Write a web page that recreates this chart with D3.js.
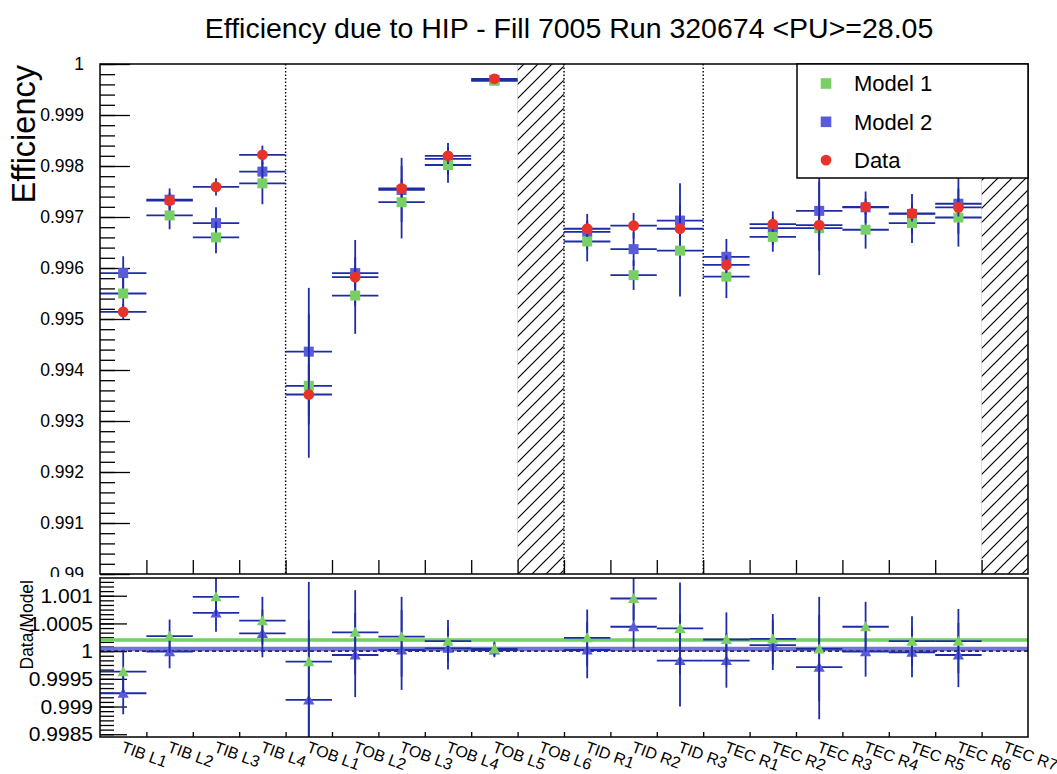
<!DOCTYPE html>
<html>
<head>
<meta charset="utf-8">
<script src="https://cdn.jsdelivr.net/npm/d3@7"></script>
<style>
  body { margin: 0; background: #fff; }
  svg { display: block; }
  text { font-family: "Liberation Sans", Arial, Helvetica, sans-serif; fill: #000; }
</style>
</head>
<body>
<svg id="chart" width="1057" height="774"></svg>
<script>
// Tracker layers (bins)
const categories = ["TIB L1","TIB L2","TIB L3","TIB L4",
  "TOB L1","TOB L2","TOB L3","TOB L4","TOB L5","TOB L6",
  "TID R1","TID R2","TID R3",
  "TEC R1","TEC R2","TEC R3","TEC R4","TEC R5","TEC R6","TEC R7"];

// Efficiencies per layer (null = layer not measured)
const model1 = [0.99550,0.99703,0.99660,0.99766,0.99369,0.99546,0.99729,0.99802,0.99967,null,
  0.99652,0.99586,0.99634,0.99583,0.99661,0.99678,0.99675,0.99688,0.99699,null];
const model1Err = [0.00031,0.00027,0.00031,0.00041,0.00141,0.00075,0.00071,0.00035,0.00004,null,
  0.00039,0.00029,0.00090,0.00042,0.00029,0.00092,0.00037,0.00039,0.00057,null];
const model2 = [0.99590,0.99734,0.99688,0.99789,0.99436,0.99590,0.99753,0.99814,0.99969,null,
  0.99671,0.99637,0.99693,0.99622,0.99678,0.99712,0.99719,0.99706,0.99726,null];
const model2Err = [0.00033,0.00022,0.00031,0.00031,0.00125,0.00065,0.00063,0.00031,0.00004,null,
  0.00035,0.00033,0.00073,0.00035,0.00033,0.00078,0.00031,0.00039,0.00059,null];
const data = [0.99514,0.99732,0.99759,0.99822,0.99352,0.99582,0.99756,0.99820,0.99971,null,
  0.99677,0.99683,0.99677,0.99606,0.99686,0.99684,0.99720,0.99707,0.99719,null];
const dataErr = [0.00015,0.00016,0.00017,0.00018,0.00059,0.00020,0.00018,0.00016,0.00004,null,
  0.00016,0.00025,0.00020,0.00016,0.00014,0.00018,0.00016,0.00016,0.00018,null];

// Ratios Data/Model
const ratio1 = [0.99963,1.00027,1.00098,1.00055,0.99981,1.00034,1.00026,1.00018,1.00004,null,
  1.00024,1.00095,1.00041,1.00021,1.00022,1.00004,1.00044,1.00018,1.00018,null];
const ratio2 = [0.99924,0.99999,1.00069,1.00032,0.99912,0.99993,1.00002,1.00005,1.00002,null,
  1.00002,1.00044,0.99983,0.99983,1.00011,0.99971,0.99999,0.99998,0.99993,null];
const ratioErr = [0.00038,0.00030,0.00034,0.00043,0.00144,0.00076,0.00072,0.00038,0.00013,null,
  0.00051,0.00039,0.00083,0.00049,0.00045,0.00094,0.00045,0.00045,0.00058,null];
// Constant fits of the ratios
const fit1 = 1.00020;
const fit2 = 1.00004;

// Layout helpers
const groupStarts = ["TOB L1","TID R1","TEC R1"];
const emptyBins = ["TOB L6","TEC R7"];
const topTicks = d3.range(0, 11).map(i => +(0.99 + i * 0.001).toFixed(4));
const topMinor = d3.range(0, 51).map(i => +(0.99 + i * 0.0002).toFixed(5));
const ratioTicks = [0.9985, 0.999, 0.9995, 1, 1.0005, 1.001];
const ratioMinor = d3.range(-1, 36).map(i => 0.9985 + i * 0.0005 / 6);

const title = "Efficiency due to HIP - Fill 7005 Run 320674 <PU>=28.05";

const colors = { m1: "#78d064", m2: "#5a5adc", data: "#e8332a", err: "#1e2ca3" };

const svg = d3.select("#chart");
const L = 100, R = 1028, T1 = 64, B1 = 574, T2 = 578, B2 = 737;

const x = d3.scaleBand().domain(categories).range([L, R]).paddingInner(0).paddingOuter(0);
const xEdge = d3.scaleLinear().domain([0, categories.length]).range([L, R]);
const yTop = d3.scaleLinear().domain([0.99, 1]).range([B1, T1]);
const yRat = d3.scaleLinear().domain([0.99845, 1.00132]).range([B2, T2]);
const bw = x.bandwidth();
const cx = c => x(c) + bw / 2;
const fmt = d => String(+d.toFixed(5));

const defs = svg.append("defs");
const hatch = defs.append("pattern").attr("id", "hatch")
  .attr("patternUnits", "userSpaceOnUse").attr("width", 14).attr("height", 14);
hatch.append("path").attr("d", "M-3,3 L3,-3 M0,14 L14,0 M11,17 L17,11")
  .attr("stroke", "#000").attr("stroke-width", 1.2);
defs.append("clipPath").attr("id", "clipTop").append("rect")
  .attr("x", L).attr("y", T1).attr("width", R - L).attr("height", B1 - T1);
defs.append("clipPath").attr("id", "clipRat").append("rect")
  .attr("x", L).attr("y", T2).attr("width", R - L).attr("height", B2 - T2);

// ---------- Title ----------
svg.append("text").attr("x", 569).attr("y", 38).attr("text-anchor", "middle")
  .style("font-size", "28.5px").text(title);

// ---------- Upper pad ----------
const upperPad = svg.append("g");

// hatched empty layers
upperPad.append("g").selectAll("rect").data(emptyBins).join("rect")
  .attr("x", d => x(d)).attr("y", T1).attr("width", bw).attr("height", B1 - T1)
  .attr("fill", "url(#hatch)").attr("stroke", "#ccc").attr("stroke-width", 0.6);

// dotted separators between sub-detectors
upperPad.append("g").selectAll("line").data(groupStarts).join("line")
  .attr("x1", d => x(d)).attr("x2", d => x(d)).attr("y1", T1).attr("y2", B1)
  .attr("stroke", "#000").attr("stroke-width", 1.4).attr("stroke-dasharray", "1.5,2");

// y axis (ticks inward)
upperPad.append("g").attr("transform", `translate(${L},0)`)
  .call(d3.axisLeft(yTop).tickValues(topMinor).tickSizeInner(-15).tickSizeOuter(0).tickFormat(""))
  .call(g => g.select(".domain").remove())
  .call(g => g.selectAll("line").attr("stroke-width", 1.3));
upperPad.append("g").attr("transform", `translate(${L},0)`)
  .call(d3.axisLeft(yTop).tickValues(topTicks).tickSizeInner(-30).tickSizeOuter(0).tickPadding(16).tickFormat(fmt))
  .call(g => g.select(".domain").remove())
  .call(g => g.selectAll("line").attr("stroke-width", 1.3))
  .call(g => g.selectAll("text").style("font-size", "17.5px").attr("font-family", null));

// x ticks at bin edges
upperPad.append("g").attr("transform", `translate(0,${B1})`)
  .call(d3.axisBottom(xEdge).tickValues(d3.range(1, categories.length)).tickSizeInner(-14).tickSizeOuter(0).tickFormat(""))
  .call(g => g.select(".domain").remove())
  .call(g => g.selectAll("line").attr("stroke-width", 1.3));

// y-axis title
svg.append("text").attr("transform", `translate(35,${T1 + 1}) rotate(-90)`)
  .attr("text-anchor", "end").style("font-size", "32.5px").text("Efficiency");

// error bars + markers, series by series
function drawSeries(g, vals, errs, yScale, color, shape) {
  const pts = categories.map((c, i) => ({ c, v: vals[i], e: errs[i] })).filter(d => d.v != null);
  const s = g.append("g");
  s.selectAll(".h").data(pts).join("line").attr("class", "h")
    .attr("x1", d => x(d.c)).attr("x2", d => x(d.c) + bw)
    .attr("y1", d => yScale(d.v)).attr("y2", d => yScale(d.v))
    .attr("stroke", colors.err).attr("stroke-width", 1.8);
  s.selectAll(".v").data(pts).join("line").attr("class", "v")
    .attr("x1", d => cx(d.c)).attr("x2", d => cx(d.c))
    .attr("y1", d => yScale(d.v - d.e)).attr("y2", d => yScale(d.v + d.e))
    .attr("stroke", colors.err).attr("stroke-width", 1.8);
  const m = s.selectAll(".m").data(pts).join("path").attr("class", "m")
    .attr("transform", d => `translate(${cx(d.c)},${yScale(d.v)})`)
    .attr("fill", color);
  if (shape === "square") m.attr("d", "M-5,-5H5V5H-5Z");
  else if (shape === "circle") m.attr("d", d3.symbol(d3.symbolCircle, Math.PI * 5.4 * 5.4)());
  else m.attr("d", "M0,-5.5L5.6,4.5H-5.6Z");
}

const topPlot = upperPad.append("g").attr("clip-path", "url(#clipTop)");
drawSeries(topPlot, model2, model2Err, yTop, colors.m2, "square");
drawSeries(topPlot, model1, model1Err, yTop, colors.m1, "square");
drawSeries(topPlot, data, dataErr, yTop, colors.data, "circle");

// frame
upperPad.append("rect").attr("x", L).attr("y", T1).attr("width", R - L).attr("height", B1 - T1)
  .attr("fill", "none").attr("stroke", "#000").attr("stroke-width", 1.5);

// legend
const legendItems = [
  { label: "Model 1", color: colors.m1, shape: "square" },
  { label: "Model 2", color: colors.m2, shape: "square" },
  { label: "Data", color: colors.data, shape: "circle" }
];
const lg = svg.append("g");
lg.append("rect").attr("x", 797).attr("y", T1).attr("width", R - 797).attr("height", 114)
  .attr("fill", "#fff").attr("stroke", "#000").attr("stroke-width", 1.5);
const li = lg.selectAll("g.item").data(legendItems).join("g").attr("class", "item")
  .attr("transform", (d, i) => `translate(826,${83.5 + i * 38.3})`);
li.append("path")
  .attr("d", d => d.shape === "square" ? "M-5.3,-5.3H5.3V5.3H-5.3Z" : d3.symbol(d3.symbolCircle, Math.PI * 5.4 * 5.4)())
  .attr("fill", d => d.color);
li.append("text").attr("x", 28).attr("dy", "0.36em").style("font-size", "22px").text(d => d.label);

// ---------- Lower pad ----------
svg.append("rect").attr("x", 0).attr("y", 577).attr("width", 1057).attr("height", 774 - 577).attr("fill", "#fff");
const lowerPad = svg.append("g");

lowerPad.append("g").attr("transform", `translate(${L},0)`)
  .call(d3.axisLeft(yRat).tickValues(ratioMinor.filter(v => v > 0.99845 && v < 1.00132))
    .tickSizeInner(-14).tickSizeOuter(0).tickFormat(""))
  .call(g => g.select(".domain").remove())
  .call(g => g.selectAll("line").attr("stroke-width", 1.3));
lowerPad.append("g").attr("transform", `translate(${L},0)`)
  .call(d3.axisLeft(yRat).tickValues(ratioTicks).tickSizeInner(-27).tickSizeOuter(0).tickPadding(7).tickFormat(fmt))
  .call(g => g.select(".domain").remove())
  .call(g => g.selectAll("line").attr("stroke-width", 1.3))
  .call(g => g.selectAll("text").style("font-size", "21px").attr("font-family", null));

lowerPad.append("g").attr("transform", `translate(0,${B2})`)
  .call(d3.axisBottom(xEdge).tickValues(d3.range(1, categories.length)).tickSizeInner(-5).tickSizeOuter(0).tickFormat(""))
  .call(g => g.select(".domain").remove())
  .call(g => g.selectAll("line").attr("stroke-width", 1.3));

svg.append("text").attr("transform", `translate(33,${T2 + 2}) rotate(-90)`)
  .attr("text-anchor", "end").style("font-size", "17.5px").text("Data/Model");

const ratPlot = lowerPad.append("g").attr("clip-path", "url(#clipRat)");
ratPlot.append("line").attr("x1", L).attr("x2", R).attr("y1", yRat(fit2)).attr("y2", yRat(fit2))
  .attr("stroke", "#6464dc").attr("stroke-width", 4.5).attr("opacity", 0.9);
ratPlot.append("line").attr("x1", L).attr("x2", R).attr("y1", yRat(fit1)).attr("y2", yRat(fit1))
  .attr("stroke", "#6fd35c").attr("stroke-width", 3.5);
ratPlot.append("line").attr("x1", L).attr("x2", R).attr("y1", yRat(1)).attr("y2", yRat(1))
  .attr("stroke", "#000").attr("stroke-width", 1.3).attr("stroke-dasharray", "4,3");
drawSeries(ratPlot, ratio2, ratioErr, yRat, colors.m2, "triangle");
drawSeries(ratPlot, ratio1, ratioErr, yRat, colors.m1, "triangle");

lowerPad.append("rect").attr("x", L).attr("y", T2).attr("width", R - L).attr("height", B2 - T2)
  .attr("fill", "none").attr("stroke", "#000").attr("stroke-width", 1.5);

// rotated bin labels
lowerPad.append("g").selectAll("text").data(categories).join("text")
  .attr("transform", d => `translate(${cx(d) - 3},751.5) rotate(20)`)
  .style("font-size", "16px").text(d => d);
</script>
</body>
</html>
